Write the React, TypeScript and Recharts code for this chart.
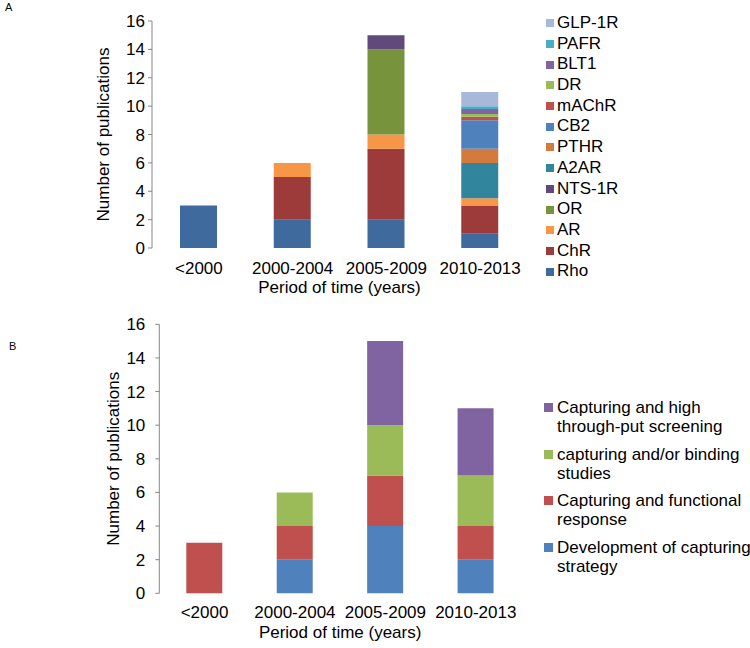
import React from 'react';
import { BarChart, Bar, XAxis, YAxis, Legend, Label } from 'recharts';

const periods = ['<2000', '2000-2004', '2005-2009', '2010-2013'];
const yTicks = [0, 2, 4, 6, 8, 10, 12, 14, 16];
const edgeTicks = [0, 1, 2, 3, 4];

// panel A: receptor types, listed bottom of the stack first
const receptorNames = ['Rho', 'ChR', 'AR', 'OR', 'NTS-1R', 'A2AR', 'PTHR', 'CB2', 'mAChR', 'DR', 'BLT1', 'PAFR', 'GLP-1R'];
const receptorColors = ['#3F6A9E', '#9C3B3A', '#F79646', '#77933C', '#604A7B', '#31859C', '#D27B3C', '#4F81BD', '#C0504D', '#9BBB59', '#8064A2', '#4BACC6', '#A7B8DA'];
const rho = [3, 2, 2, 1];
const chr = [0, 3, 5, 2];
const ar = [0, 1, 1, 0.5];
const or = [0, 0, 6, 0];
const nts1r = [0, 0, 1, 0];
const a2ar = [0, 0, 0, 2.5];
const pthr = [0, 0, 0, 1];
const cb2 = [0, 0, 0, 2];
const machr = [0, 0, 0, 0.25];
const dr = [0, 0, 0, 0.2];
const blt1 = [0, 0, 0, 0.35];
const pafr = [0, 0, 0, 0.2];
const glp1r = [0, 0, 0, 1];
const receptorValues = [rho, chr, ar, or, nts1r, a2ar, pthr, cb2, machr, dr, blt1, pafr, glp1r];

// panel B: study approach
const approachNames = ['Development of capturing strategy', 'Capturing and functional response', 'capturing and/or binding studies', 'Capturing and high through-put screening'];
const approachColors = ['#4F81BD', '#C0504D', '#9BBB59', '#8064A2'];
const development = [0, 2, 4, 2];
const functional = [3, 2, 3, 2];
const binding = [0, 2, 3, 3];
const screening = [0, 0, 5, 4];
const approachValues = [development, functional, binding, screening];

const dataA = periods.map((period, i) => {
  const row: Record<string, any> = { period };
  receptorNames.forEach((n, k) => { row[n] = receptorValues[k][i]; });
  return row;
});

const dataB = periods.map((period, i) => {
  const row: Record<string, any> = { period };
  approachNames.forEach((n, k) => { row[n] = approachValues[k][i]; });
  return row;
});

const axisColor = '#878787';
const font = '"Liberation Sans", Arial, sans-serif';

const LegendA = () => (
  <div style={{ textAlign: 'left' }}>
    {receptorNames.map((n, k) => ({ n, c: receptorColors[k] })).reverse().map(({ n, c }) => (
      <div key={n} style={{ height: 20.7, display: 'flex', alignItems: 'center' }}>
        <span style={{ width: 8, height: 8, background: c, marginRight: 3, flex: 'none' }} />
        <span style={{ fontSize: 17, lineHeight: '20.7px', color: '#000' }}>{n}</span>
      </div>
    ))}
  </div>
);

const LegendB = () => (
  <div style={{ textAlign: 'left' }}>
    {approachNames.map((n, k) => ({ n, c: approachColors[k] })).reverse().map(({ n, c }) => (
      <div key={n} style={{ display: 'flex', alignItems: 'flex-start', marginBottom: 8.5 }}>
        <span style={{ width: 9, height: 9, background: c, marginRight: 4, marginTop: 5, flex: 'none' }} />
        <span style={{ fontSize: 17, lineHeight: '19px', width: 195, color: '#000' }}>{n}</span>
      </div>
    ))}
  </div>
);

const App = () => {
  return (
    <div style={{ position: 'absolute', left: 0, top: 0, width: 750, height: 648, overflow: 'hidden', background: '#fff', fontFamily: font }}>
      <div style={{ position: 'absolute', left: 5, top: 1, fontSize: 11 }}>A</div>
      <div style={{ position: 'absolute', left: 9, top: 340, fontSize: 11 }}>B</div>

      <div style={{ position: 'absolute', left: 0, top: 0 }}>
        <BarChart width={750} height={300} data={dataA} margin={{ top: 21, right: 223, left: 102, bottom: 7 }}>
          <XAxis xAxisId="edge" type="number" domain={[0, 4]} ticks={edgeTicks} allowDataOverflow height={0}
            tickSize={5} tickFormatter={() => ''} stroke={axisColor} />
          <XAxis xAxisId="cat" dataKey="period" axisLine={false} tickLine={false} tickSize={0} tickMargin={14}
            height={45} interval={0} tick={{ fontSize: 17, fill: '#000' }}>
            <Label value="Period of time (years)" position="insideBottom" offset={0} style={{ fontSize: 17, fill: '#000' }} />
          </XAxis>
          <YAxis width={50} domain={[0, 16]} ticks={yTicks} tickSize={4} tickMargin={3} stroke={axisColor}
            tick={{ fontSize: 17, fill: '#000' }}>
            <Label value="Number of publications" angle={-90} position="insideLeft" offset={1}
              style={{ fontSize: 17, fill: '#000', textAnchor: 'middle' }} />
          </YAxis>
          <Legend layout="horizontal" align="center" verticalAlign="middle" content={<LegendA />}
            wrapperStyle={{ left: 546, top: 13, width: 'auto', height: 'auto' }} />
          {receptorNames.map((n, k) => (
            <Bar key={n} xAxisId="cat" dataKey={n} stackId="a" fill={receptorColors[k]} barSize={37} isAnimationActive={false} />
          ))}
        </BarChart>
      </div>

      <div style={{ position: 'absolute', left: 0, top: 300 }}>
        <BarChart width={750} height={348} data={dataB} margin={{ top: 24.3, right: 229, left: 109.3, bottom: 9.7 }}>
          <XAxis xAxisId="edge" type="number" domain={[0, 4]} ticks={edgeTicks} allowDataOverflow height={0}
            tickSize={5} tickFormatter={() => ''} stroke={axisColor} />
          <XAxis xAxisId="cat" dataKey="period" axisLine={false} tickLine={false} tickSize={0} tickMargin={13}
            height={45} interval={0} tick={{ fontSize: 17, fill: '#000' }}>
            <Label value="Period of time (years)" position="insideBottom" offset={0} style={{ fontSize: 17, fill: '#000' }} />
          </XAxis>
          <YAxis width={50} domain={[0, 16]} ticks={yTicks} tickSize={4} tickMargin={10} stroke={axisColor}
            tick={{ fontSize: 17, fill: '#000' }}>
            <Label value="Number of publications" angle={-90} position="insideLeft" offset={4}
              style={{ fontSize: 17, fill: '#000', textAnchor: 'middle' }} />
          </YAxis>
          <Legend layout="horizontal" align="center" verticalAlign="middle" content={<LegendB />}
            wrapperStyle={{ left: 544, top: 98.2, width: 'auto', height: 'auto' }} />
          {approachNames.map((n, k) => (
            <Bar key={n} xAxisId="cat" dataKey={n} stackId="b" fill={approachColors[k]} barSize={36} isAnimationActive={false} />
          ))}
        </BarChart>
      </div>
    </div>
  );
};

export default App;
